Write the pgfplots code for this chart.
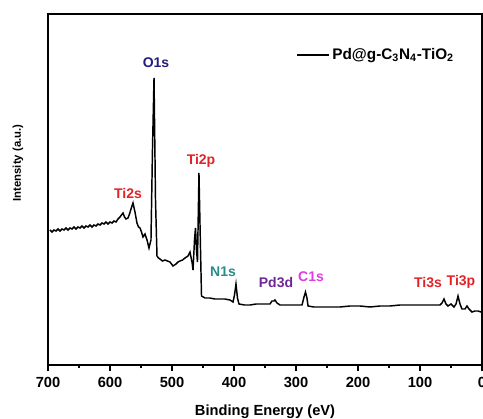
\documentclass[border=0pt]{standalone}
\usepackage{fontspec}
\setmainfont{Liberation Sans}
\usepackage{pgfplots}
\pgfplotsset{compat=1.18}
\definecolor{oblue}{RGB}{35,30,125}
\definecolor{tired}{RGB}{225,35,40}
\definecolor{nteal}{RGB}{40,140,140}
\definecolor{pdpurple}{RGB}{110,40,150}
\definecolor{cmag}{RGB}{225,60,225}

\begin{document}
\begin{tikzpicture}
\begin{axis}[
  name=ax,
  scale only axis,
  width=325.5pt, height=263.25pt,
  x dir=reverse,
  xmin=0, xmax=700, ymin=0, ymax=351,
  xtick={0,100,...,700}, minor x tick num=1,
  ytick=\empty,
  xtick pos=bottom, tick align=outside,
  major tick length=4.5pt, minor tick length=2.5pt,
  axis line style={line width=1.5pt},
  every tick/.style={black, line width=1.2pt},
  /pgf/number format/assume math mode=true,
  xticklabel style={font=\bfseries\fontsize{11}{13}\selectfont, yshift=-1.5pt},
  xlabel={Binding Energy (eV)},
  xlabel style={font=\bfseries\fontsize{11}{13}\selectfont,
    at={(axis description cs:0.5,0)}, anchor=center, yshift=-35pt},
  legend style={draw=none, fill=none, at={(axis cs:300,310)}, anchor=west,
    inner sep=0pt, font=\bfseries\fontsize{11.5}{13}\selectfont},
  legend cell align=left,
  legend image code/.code={\draw[#1] (0pt,0pt) -- (24pt,0pt);},
]
\addplot[black, line width=1.1pt] coordinates {
  (696.8,135)(693.5,133)(690.3,135)(687.1,134)(683.9,136)(680.6,134)
  (677.4,136)(674.2,135)(671.0,137)(667.7,135)(664.5,137)(661.3,136)
  (658.1,138)(654.8,136)(651.6,138)(648.4,137)(645.2,139)(641.9,137)
  (638.7,139)(635.5,138)(632.3,140)(629.0,138)(625.8,140)(622.6,139)
  (619.4,141)(616.1,140)(612.9,142)(609.7,141)(606.5,143)(603.2,141)
  (600.0,143)(596.8,142)(593.5,144)(590.3,143)(587.1,146)(583.9,148)
  (581.5,150)(579.0,152)(576.6,148)(574.2,146)(571.0,147)(568.5,151)
  (566.1,156)(562.9,162)(559.7,153)(556.5,142)(554.0,138)(551.6,137)
  (549.2,133)(546.8,128)(543.5,131)(540.3,125)(537.1,117)(533.9,125)
  (531.5,215)(529.0,287)(526.6,165)(524.2,109)(521.8,107)(519.4,106)
  (515.3,104)(511.3,105)(507.3,104)(503.2,103)(498.4,99)(495.9,100)
  (493.5,101)(490.3,103)(487.1,104)(483.1,105)(479.0,107)(476.6,108)
  (474.2,109)(471.0,113)(469.4,108)(467.7,103)(466.1,95)(463.7,125)
  (462.1,137)(460.5,115)(458.9,103)(456.5,192)(454.0,115)(452.4,69)
  (446.8,67)(438.7,67)(430.6,66)(422.6,66)(414.5,66)(406.5,65)
  (401.6,63)(399.2,70)(396.8,81)(394.4,67)(392.0,61)(383.1,60)
  (374.2,60)(364.5,61)(354.8,61)(342.0,61)(338.7,64)(335.5,64)
  (333.9,65)(330.6,62)(325.8,60)(317.7,60)(309.7,60)(300.0,60)
  (290.3,60)(287.1,68)(284.7,73)(282.3,67)(280.6,59)(271.0,58)
  (261.3,58)(245.2,58)(229.0,58)(212.9,59)(196.8,59)(180.6,58)
  (164.5,59)(148.4,59)(132.3,60)(116.1,60)(100.0,60)(87.9,60)
  (75.8,60)(67.7,60)(64.5,62)(61.3,66)(58.1,61)(54.8,59)
  (50.0,61)(45.2,58)(41.9,61)(38.7,69)(35.5,61)(32.3,56)
  (27.4,56)(24.2,59)(21.0,56)(16.1,53)(11.3,54)(6.5,54)(1.6,53)
};
\addlegendentry{Pd@g-C\textsubscript{3}N\textsubscript{4}-TiO\textsubscript{2}}
\begin{scope}[every node/.style={font=\bfseries\fontsize{10.5}{12}\selectfont}]
\node[text=oblue] at (axis cs:525.8,302) {O1s};
\node[text=tired] at (axis cs:571.0,172) {Ti2s};
\node[text=tired] at (axis cs:453.2,204) {Ti2p};
\node[text=nteal] at (axis cs:417.7,93) {N1s};
\node[text=pdpurple] at (axis cs:332.3,83) {Pd3d};
\node[text=cmag] at (axis cs:275.8,88) {C1s};
\node[text=tired] at (axis cs:87.1,83) {Ti3s};
\node[text=tired] at (axis cs:33.9,83) {Ti3p};
\end{scope}
\end{axis}
\node[rotate=90, font=\bfseries\fontsize{8.5}{10}\selectfont]
  at ([shift={(-22.5pt,151.5pt)}]ax.south west) {Intensity (a.u.)};
\pgfresetboundingbox
\path ([shift={(-36pt,-39.75pt)}]ax.south west) rectangle
  ([shift={(0.75pt,10.5pt)}]ax.north east);
\end{tikzpicture}
\end{document}
